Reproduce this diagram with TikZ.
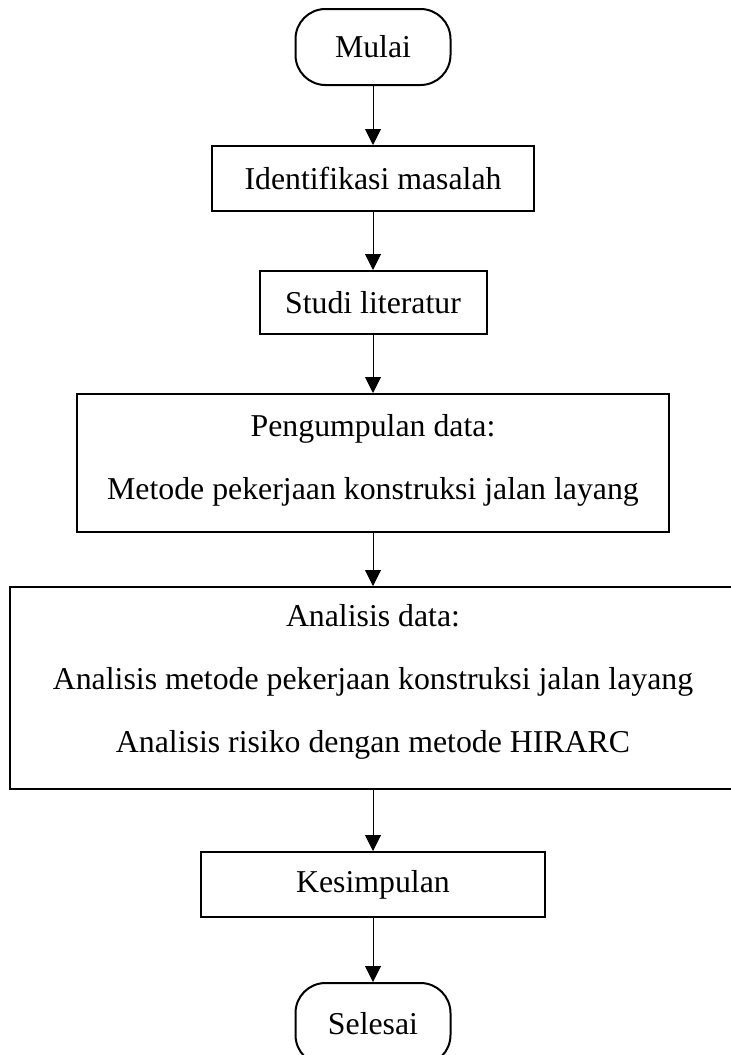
\documentclass[tikz,border=0pt]{standalone}
\usepackage{fontspec}
\setmainfont{Liberation Serif}
\usepackage{tikz}
\usetikzlibrary{shapes,arrows.meta,positioning}

\begin{document}
\begin{tikzpicture}[x=1pt,y=-1pt,
	font=\fontsize{31.8}{38}\selectfont,
	kotak/.style={draw,line width=2pt,inner sep=0pt},
	terminal/.style={kotak,rounded corners=30pt,minimum width=155pt,minimum height=76pt},
	baris/.style={anchor=base,inner sep=0pt},
	panah/.style={-{Triangle[length=16pt,width=16pt]},line width=1pt}]
	\useasboundingbox (0,0) rectangle (731,1055);

	\node[terminal] (1) at (373,47) {Mulai};
	\node[kotak,minimum width=322pt,minimum height=65pt] (2) at (373,178.5) {Identifikasi masalah};
	\node[kotak,minimum width=227pt,minimum height=63pt] (3) at (373,302.5) {Studi literatur};
	\node[kotak,minimum width=592pt,minimum height=138pt] (4) at (373,463) {};
	\node[kotak,minimum width=726pt,minimum height=202pt] (5) at (373,688) {};
	\node[kotak,minimum width=344pt,minimum height=65pt] (6) at (373,884.5) {Kesimpulan};
	\node[terminal,minimum height=82pt] (7) at (373,1024) {Selesai};

	% isi kotak
	\node[baris] (4a) at (373,436) {Pengumpulan data:};
	\node[baris] (4b) at (373,499) {Metode pekerjaan konstruksi jalan layang};
	\node[baris] (5a) at (373,626) {Analisis data:};
	\node[baris] (5b) at (373,689) {Analisis metode pekerjaan konstruksi jalan layang};
	\node[baris] (5c) at (373,752) {Analisis risiko dengan metode HIRARC};

	\path [panah] (1) edge (2);
	\path [panah] (2) edge (3);
	\path [panah] (3) edge (4);
	\path [panah] (4) edge (5);
	\path [panah] (5) edge (6);
	\path [panah] (6) edge (7);
\end{tikzpicture}
\end{document}
